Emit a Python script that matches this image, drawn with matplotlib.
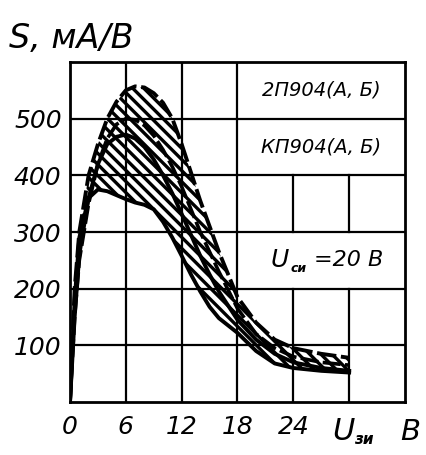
import numpy as np
import matplotlib
matplotlib.use("Agg")
import matplotlib.pyplot as plt

# ---- data ----
u_gs = [0, 0.5, 1, 2, 3, 4, 5, 6, 7, 8, 9, 10, 11, 12, 13, 14, 15, 16, 18, 20, 22, 24, 27, 30]
s_outer = [0, 200, 300, 400, 455, 500, 530, 550, 557, 555, 545, 528, 500, 455, 405, 355, 310, 265, 185, 140, 110, 95, 85, 78]
s_upper_inner = [0, 150, 250, 350, 420, 465, 490, 500, 498, 488, 470, 445, 415, 380, 340, 300, 265, 230, 165, 120, 95, 80, 70, 65]
s_mid = [0, 150, 260, 360, 420, 455, 468, 472, 465, 450, 428, 400, 368, 332, 295, 258, 225, 195, 145, 110, 85, 70, 60, 55]
s_lower = [0, 180, 290, 360, 375, 372, 365, 358, 352, 348, 340, 318, 290, 258, 225, 195, 168, 148, 122, 90, 68, 60, 55, 52]

x_ticks = [0, 6, 12, 18, 24]
x_tick_labels = ["0", "6", "12", "18", "24"]
y_ticks = [100, 200, 300, 400, 500]
y_tick_labels = ["100", "200", "300", "400", "500"]
legend_lines = ["2П904(А, Б)", "КП904(А, Б)"]
condition_label = "U"
condition_sub = "си"
condition_value = "=20 В"

plt.rcParams["hatch.linewidth"] = 2.4
plt.rcParams["font.family"] = ["DejaVu Sans"]

fig = plt.figure(figsize=(4.27, 4.55), dpi=100)
ax = fig.add_axes([70 / 427, 1 - 402 / 455, 335 / 427, 340 / 455])
ax.set_xlim(0, 36)
ax.set_ylim(0, 600)

# grid (with gaps where the captions sit)
for xv in [6, 12, 18]:
    ax.plot([xv, xv], [0, 600], color="black", lw=1.6, zorder=1)
for xv in [24, 30]:
    ax.plot([xv, xv], [0, 200], color="black", lw=1.6, zorder=1)
    ax.plot([xv, xv], [300, 400], color="black", lw=1.6, zorder=1)
for yv in [100, 200, 300, 400, 500]:
    ax.plot([0, 36], [yv, yv], color="black", lw=1.6, zorder=1)

x = np.array(u_gs)
lo = np.minimum(np.array(s_mid), np.array(s_lower))
ax.fill_between(x, lo, s_outer, facecolor="none", edgecolor="black",
                hatch="\\\\\\", linewidth=0, zorder=2)

ax.plot(x, s_outer, color="black", lw=2.8, dashes=(5, 1.2), zorder=3)
ax.plot(x, s_upper_inner, color="black", lw=2.6, dashes=(5, 1.2), zorder=3)
ax.plot(x, s_mid, color="black", lw=2.8, zorder=3)
ax.plot(x, s_lower, color="black", lw=2.8, zorder=3)

for sp in ax.spines.values():
    sp.set_linewidth(2.0)

txt = dict(style="italic", color="black")
ax.set_xticks(x_ticks)
ax.set_xticklabels(x_tick_labels, fontsize=18, **txt)
ax.set_yticks(y_ticks)
ax.set_yticklabels(y_tick_labels, fontsize=18, **txt)
ax.tick_params(length=0, pad=6)
ax.tick_params(axis="x", pad=9)

ax.text(27, 550, legend_lines[0], ha="center", va="center", fontsize=14, **txt)
ax.text(27, 450, legend_lines[1], ha="center", va="center", fontsize=14, **txt)
ax.text(21.6, 250, condition_label, ha="left", va="center", fontsize=18, **txt)
ax.text(23.7, 235, condition_sub, ha="left", va="center", fontsize=9, fontweight="bold", **txt)
ax.text(26.2, 250, condition_value, ha="left", va="center", fontsize=16, **txt)

# axis titles
fig.text(0.02, 0.915, "S, мА/В", ha="left", va="center", fontsize=24, **txt)
fig.text(332 / 427, 1 - 432 / 455, "U", ha="left", va="center", fontsize=22, **txt)
fig.text(354 / 427, 1 - 440 / 455, "зи", ha="left", va="center", fontsize=11, fontweight="bold", **txt)
fig.text(400 / 427, 1 - 432 / 455, "В", ha="left", va="center", fontsize=21, **txt)

fig.savefig("out.png", dpi=100)
